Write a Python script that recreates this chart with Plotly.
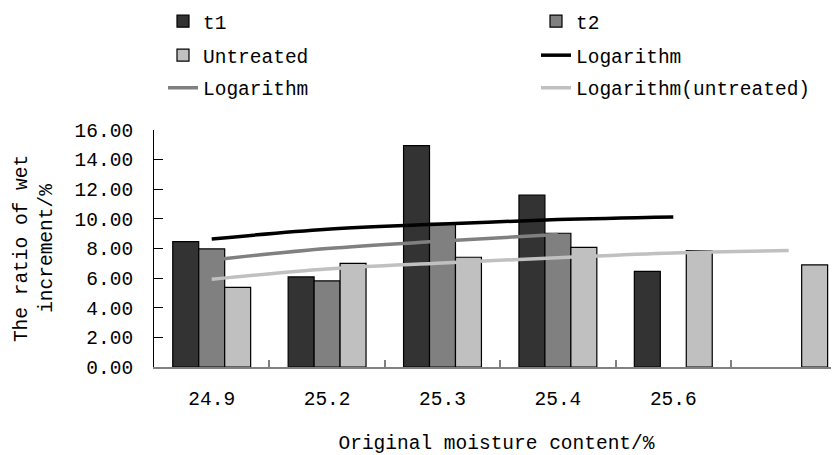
import plotly.graph_objects as go

# ---- data ----
categories = ["24.9", "25.2", "25.3", "25.4", "25.6", "(blank)"]
tick_text = ["24.9", "25.2", "25.3", "25.4", "25.6", ""]

t1_values = [8.46, 6.08, 14.95, 11.6, 6.46, None]
t2_values = [7.97, 5.81, 9.70, 9.03, None, None]
untreated_values = [5.38, 7.00, 7.41, 8.08, 7.85, 6.89]

# logarithmic trend lines as drawn in the picture (values at category centres)
log_t1 = [8.64, 9.30, 9.65, 9.95, 10.13]
log_t2 = [7.22, 8.00, 8.50, 8.95]
log_untreated = [5.92, 6.62, 7.02, 7.38, 7.70, 7.86]

FONT = "Liberation Mono"
FS = 19.5

# the page adds an 8px body margin, so the figure is laid out 8px smaller
W, H = 831, 447

fig = go.Figure()

bar_line = dict(color="#000000", width=1.2)
fig.add_trace(go.Bar(x=categories, y=t1_values, name="t1", legendwidth=328,
                     marker=dict(color="#333333", line=bar_line), legend="legend"))
fig.add_trace(go.Bar(x=categories, y=t2_values, name="t2", legendwidth=240,
                     marker=dict(color="#808080", line=bar_line), legend="legend"))
fig.add_trace(go.Bar(x=categories, y=untreated_values, name="Untreated", legendwidth=328,
                     marker=dict(color="#c0c0c0", line=bar_line), legend="legend2"))

fig.add_trace(go.Scatter(x=categories[:len(log_t1)], y=log_t1, name="Logarithm",
                         legendwidth=240, mode="lines",
                         line=dict(color="#000000", width=3.5, shape="spline"),
                         legend="legend2"))
fig.add_trace(go.Scatter(x=categories[:len(log_t2)], y=log_t2, name="Logarithm",
                         legendwidth=328, mode="lines",
                         line=dict(color="#808080", width=3.5, shape="spline"),
                         legend="legend3"))
fig.add_trace(go.Scatter(x=categories[:len(log_untreated)], y=log_untreated,
                         name="Logarithm(untreated)", legendwidth=240, mode="lines",
                         line=dict(color="#c0c0c0", width=3.5, shape="spline"),
                         legend="legend3"))

legend_common = dict(orientation="h", xref="container", yref="container",
                     x=155 / W, xanchor="left", yanchor="middle",
                     font=dict(family=FONT, size=FS, color="#000000"),
                     bgcolor="rgba(0,0,0,0)", borderwidth=0, itemwidth=30)

fig.update_layout(
    width=W, height=H,
    margin=dict(l=146, r=0, t=122, b=88),
    paper_bgcolor="#ffffff", plot_bgcolor="#ffffff",
    barmode="group", bargap=0.325, bargroupgap=0,
    font=dict(family=FONT, size=FS, color="#000000"),
    legend=dict(legend_common, y=1 - 13.5 / H),
    legend2=dict(legend_common, y=1 - 47.5 / H),
    legend3=dict(legend_common, y=1 - 80 / H),
    xaxis=dict(
        type="category", categoryorder="array", categoryarray=categories,
        tickmode="array", tickvals=categories, ticktext=tick_text,
        tickson="boundaries",
        range=[-0.5, 5.436],
        showline=True, linecolor="#808080", linewidth=2,
        ticks="inside", ticklen=7, tickcolor="#808080", tickwidth=1.5,
        showgrid=False, zeroline=False,
        tickfont=dict(family=FONT, size=FS, color="#000000"),
        ticklabelstandoff=13,
        title=dict(text="Original moisture content/%", standoff=25,
                   font=dict(family=FONT, size=FS, color="#000000")),
    ),
    yaxis=dict(
        range=[0, 16], dtick=2, tick0=0, tickformat=".2f",
        showline=True, linecolor="#000000", linewidth=1,
        ticks="inside", ticklen=9, tickcolor="#000000", tickwidth=1,
        showgrid=False, zeroline=False,
        tickfont=dict(family=FONT, size=FS, color="#000000"),
        ticklabelstandoff=16,
        title=dict(text="The ratio of wet<br>increment/%", standoff=16,
                   font=dict(family=FONT, size=FS, color="#000000")),
    ),
)

fig.write_html("out.html")
